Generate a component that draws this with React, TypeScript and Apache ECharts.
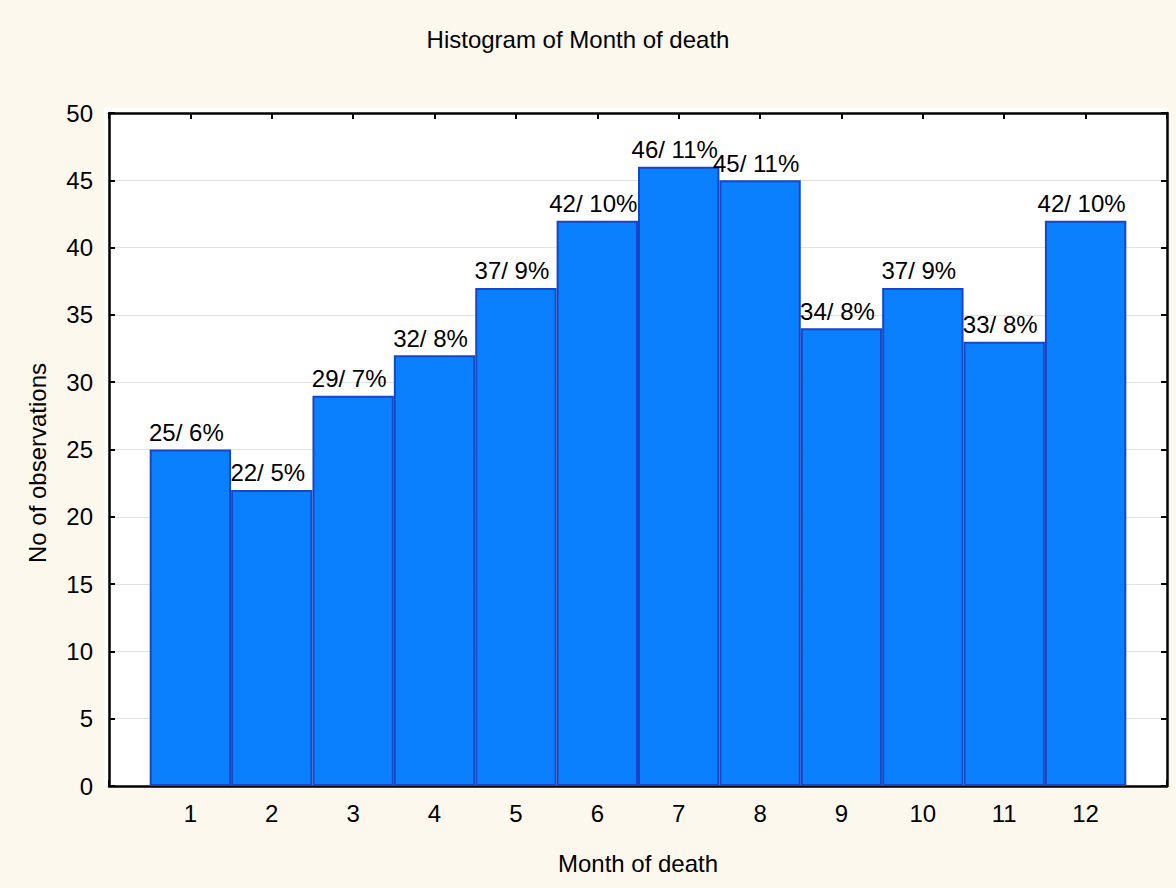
import React, { useEffect, useRef } from "react";
import * as echarts from "echarts";

const months = [1, 2, 3, 4, 5, 6, 7, 8, 9, 10, 11, 12];
const counts = [25, 22, 29, 32, 37, 42, 46, 45, 34, 37, 33, 42];
const yTicks = { min: 0, max: 50, interval: 5 };
const titleText = "Histogram of Month of death";
const xName = "Month of death";
const yName = "No of observations";

const FONT = '"Liberation Sans", Arial, sans-serif';

export default function App() {
  const ref = useRef<HTMLDivElement>(null);
  useEffect(() => {
    if (!ref.current) return;
    const chart = echarts.init(ref.current, null, { renderer: "svg" });
    const total = counts.reduce((a, b) => a + b, 0);
    const data = months.map((m, i) => [m, counts[i]]);
    const axisLine = { show: true, onZero: false, lineStyle: { color: "#000", width: 2.5 } };
    const tick = { show: true, inside: true, length: 6, lineStyle: { color: "#000", width: 2 } };
    chart.setOption({
      animation: false,
      backgroundColor: "#fdf8ee",
      textStyle: { fontFamily: FONT },
      grid: { left: 109, right: 9, top: 113, bottom: 102, show: false },
      graphic: [
        { type: "rect", z: -10, shape: { x: 104, y: 108, width: 1064, height: 679 }, style: { fill: "#ffffff" }, silent: true },
        { type: "text", x: 578, y: 39, style: { text: titleText, font: `24px ${FONT}`, fill: "#000", textAlign: "center", textVerticalAlign: "middle" } },
        { type: "text", x: 638, y: 863, style: { text: xName, font: `24px ${FONT}`, fill: "#000", textAlign: "center", textVerticalAlign: "middle" } },
        { type: "text", x: 37, y: 463, rotation: Math.PI / 2, style: { text: yName, font: `24px ${FONT}`, fill: "#000", textAlign: "center", textVerticalAlign: "middle" } },
      ],
      xAxis: [
        {
          type: "value", min: 0, max: 13, interval: 1, position: "bottom",
          axisLine, axisTick: tick, splitLine: { show: false },
          axisLabel: {
            color: "#000", fontSize: 24, fontFamily: FONT, margin: 15,
            formatter: (v: number) => (v >= 1 && v <= 12 ? String(v) : ""),
          },
        },
        {
          type: "value", min: 0, max: 13, interval: 1, position: "top",
          axisLine, axisTick: tick, splitLine: { show: false }, axisLabel: { show: false },
        },
      ],
      yAxis: [
        {
          type: "value", min: yTicks.min, max: yTicks.max, interval: yTicks.interval, position: "left",
          axisLine, axisTick: tick,
          splitLine: { show: true, lineStyle: { color: "#e2e2e2", width: 1 } },
          axisLabel: { color: "#000", fontSize: 24, fontFamily: FONT, margin: 16 },
        },
        {
          type: "value", min: yTicks.min, max: yTicks.max, interval: yTicks.interval, position: "right",
          axisLine, axisTick: tick, splitLine: { show: false }, axisLabel: { show: false },
        },
      ],
      series: [
        {
          type: "bar",
          data,
          barWidth: "100%",
          itemStyle: { color: "#0a80ff", borderColor: "#1846c4", borderWidth: 2 },
          label: {
            show: true,
            position: "top",
            distance: 5,
            offset: [-4, 0],
            color: "#000",
            fontSize: 24,
            fontFamily: FONT,
            formatter: (p: any) => `${p.value[1]}/ ${Math.round((p.value[1] / total) * 100)}%`,
          },
        },
      ],
    });
    return () => chart.dispose();
  }, []);
  return <div ref={ref} style={{ position: "fixed", left: 0, top: 0, width: 1176, height: 888 }} />;
}
